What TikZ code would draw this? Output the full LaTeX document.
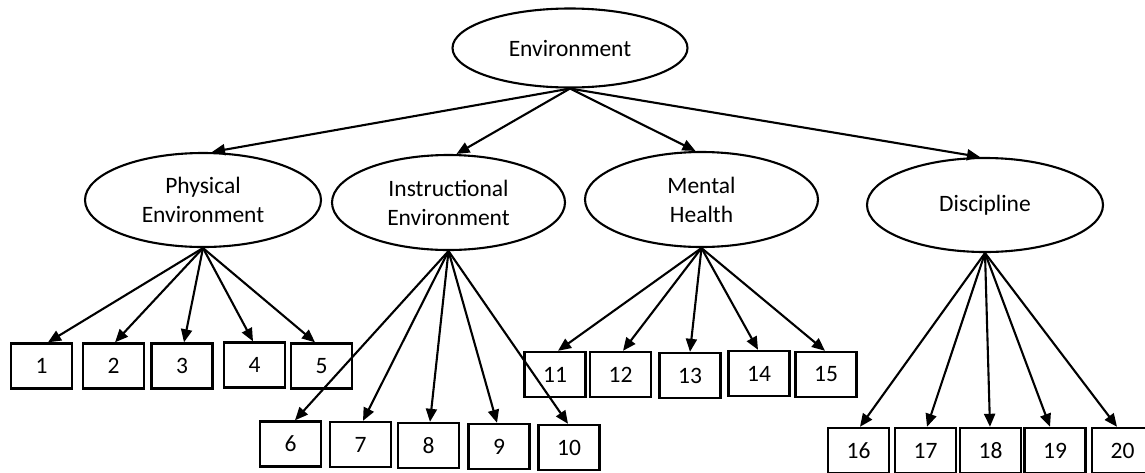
\documentclass[tikz,border=0pt]{standalone}
\usepackage{fontspec}
\setmainfont{Carlito}
\usetikzlibrary{arrows.meta,shapes.geometric}
\begin{document}
\begin{tikzpicture}[x=1pt,y=-1pt,
  latent/.style={draw,ellipse,line width=2.1pt,inner sep=0pt,align=center,
    font=\fontsize{23.5}{29}\selectfont},
  item/.style={draw,rectangle,line width=2.4pt,inner sep=0pt,minimum width=61pt,minimum height=45pt,
    font=\fontsize{23.5}{28}\selectfont},
  path/.style={line width=2.1pt,-{Triangle[length=13pt,width=11pt]}}]
\useasboundingbox (0,0) rectangle (1145,472);
\clip (0,0) rectangle (1145,472);
% latent variables
\node[latent,minimum width=235pt,minimum height=79pt] (env) at (570,48) {Environment};
\node[latent,minimum width=236pt,minimum height=94pt] (phys) at (203,200) {Physical\\Environment};
\node[latent,minimum width=233pt,minimum height=95pt] (instr) at (448.5,202.5) {Instructional\\Environment};
\node[latent,minimum width=233pt,minimum height=95pt] (ment) at (701.5,199.5) {Mental\\Health};
\node[latent,minimum width=236pt,minimum height=94pt] (disc) at (985,205) {Discipline};
% items
\node[item] (b1) at (41.5,366) {1};
\node[item] (b2) at (113.5,366) {2};
\node[item] (b3) at (182,366) {3};
\node[item] (b4) at (254.5,365) {4};
\node[item] (b5) at (321.5,366) {5};
\node[item] (b6) at (290.5,444) {6};
\node[item] (b7) at (360.5,444.5) {7};
\node[item] (b8) at (428.5,445.5) {8};
\node[item] (b9) at (499,446.5) {9};
\node[item] (b10) at (569,447.5) {10};
\node[item] (b11) at (555,374.5) {11};
\node[item] (b12) at (620.5,374.5) {12};
\node[item] (b13) at (690,375.5) {13};
\node[item] (b14) at (759,373.5) {14};
\node[item] (b15) at (826,374.5) {15};
\node[item] (b16) at (858.5,450.5) {16};
\node[item] (b17) at (925.5,450.5) {17};
\node[item] (b18) at (990.5,450.5) {18};
\node[item] (b19) at (1055,450.5) {19};
\node[item] (b20) at (1122.5,450.5) {20};
% top level paths
\draw[path] (env.south) -- ([xshift=9pt]phys.north);
\draw[path] (env.south) -- ([xshift=8pt]instr.north);
\draw[path] (env.south) -- ([xshift=-6pt]ment.north);
\draw[path] (env.south) -- ([xshift=-5pt]disc.north);
% physical
\draw[path] (phys.south) -- ([xshift=6.5pt]b1.north);
\draw[path] (phys.south) -- ([xshift=1.5pt]b2.north);
\draw[path] (phys.south) -- ([xshift=2pt]b3.north);
\draw[path] (phys.south) -- ([xshift=-1.5pt]b4.north);
\draw[path] (phys.south) -- ([xshift=-6.5pt]b5.north);
% instructional
\draw[path] (instr.south) -- ([xshift=4.5pt]b6.north);
\draw[path] (instr.south) -- ([xshift=2.5pt]b7.north);
\draw[path] (instr.south) -- ([xshift=1.5pt]b8.north);
\draw[path] (instr.south) -- ([xshift=-2pt]b9.north);
\draw[path] (instr.south) -- ([xshift=-1pt]b10.north);
% mental
\draw[path] (ment.south) -- ([xshift=3pt]b11.north);
\draw[path] (ment.south) -- ([xshift=2.5pt]b12.north);
\draw[path] (ment.south) -- (b13.north);
\draw[path] (ment.south) -- ([xshift=-1pt]b14.north);
\draw[path] (ment.south) -- ([xshift=-1pt]b15.north);
% discipline
\draw[path] (disc.south) -- ([xshift=1.5pt]b16.north);
\draw[path] (disc.south) -- ([xshift=1.5pt]b17.north);
\draw[path] (disc.south) -- ([xshift=-0.5pt]b18.north);
\draw[path] (disc.south) -- ([xshift=-5pt]b19.north);
\draw[path] (disc.south) -- ([xshift=-5.5pt]b20.north);
\end{tikzpicture}
\end{document}
